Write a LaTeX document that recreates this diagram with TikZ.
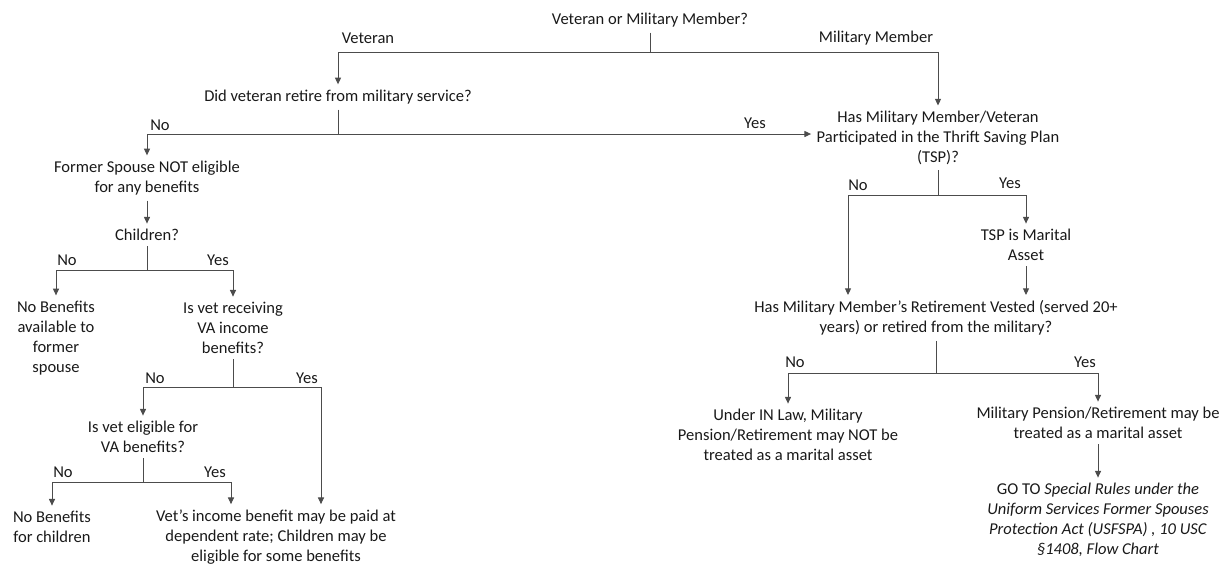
\documentclass[tikz,border=0pt]{standalone}
\usepackage{fontspec}
\setmainfont{Carlito}
\usetikzlibrary{arrows.meta}
\usetikzlibrary{calc}
\usetikzlibrary{positioning}

\tikzset{
  box/.style={align=center, inner sep=4pt, font=\fontsize{12.4}{15}\selectfont, text=black!90},
  lbl/.style={inner sep=0pt, font=\fontsize{12.4}{15}\selectfont, text=black!90},
  link/.style={draw=black!70, line width=0.7pt},
  flow/.style={link, -{Triangle[length=5pt,width=4.5pt]}},
}

\begin{document}
\begin{tikzpicture}[x=0.75pt,y=-0.75pt]
  \useasboundingbox (0,0) rectangle (1227,565);
  % Place nodes
  \node[box] (top) at (650,20) {Veteran or Military Member?};
  \node[box] (retire) at (338,97) {Did veteran retire from military service?};
  \node[box] (former) at (147,178) {Former Spouse NOT eligible\\for any benefits};
  \node[box] (children) at (147,235) {Children?};
  \node[box] (nobenspouse) at (56,338) {No Benefits\\available to\\former\\spouse};
  \node[box] (receiving) at (233,328) {Is vet receiving\\VA income\\benefits?};
  \node[box] (eligible) at (143,437) {Is vet eligible for\\VA benefits?};
  \node[box] (nobenchild) at (52,527) {No Benefits\\for children};
  \node[box] (vetinc) at (276,537) {Vet’s income benefit may be paid at\\dependent rate; Children may be\\eligible for some benefits};
  \node[box] (tsp) at (938,138) {Has Military Member/Veteran\\Participated in the Thrift Saving Plan\\(TSP)?};
  \node[box] (asset) at (1026,245) {TSP is Marital\\Asset};
  \node[box] (vest) at (936,318) {Has Military Member’s Retirement Vested (served 20+\\years) or retired from the military?};
  \node[box] (underin) at (788,435) {Under IN Law, Military\\Pension/Retirement may NOT be\\treated as a marital asset};
  \node[box] (pension) at (1098,423) {Military Pension/Retirement may be\\treated as a marital asset};
  \node[box] (goto) at (1098,520) {GO TO \textit{Special Rules under the}\\\textit{Uniform Services Former Spouses}\\\textit{Protection Act (USFSPA) , 10 USC}\\\textit{§1408, Flow Chart}};

  % Branch labels
  \node[lbl] (lveteran) at (368,38) {Veteran};
  \node[lbl] (lmember) at (876,38) {Military Member};
  \node[lbl] (lno1) at (160,125) {No};
  \node[lbl] (lyes1) at (755,123) {Yes};
  \node[lbl] (lno2) at (67,260) {No};
  \node[lbl] (lyes2) at (218,260) {Yes};
  \node[lbl] (lno3) at (155,378) {No};
  \node[lbl] (lyes3) at (307,378) {Yes};
  \node[lbl] (lno4) at (63,472) {No};
  \node[lbl] (lyes4) at (215,472) {Yes};
  \node[lbl] (lno5) at (858,185) {No};
  \node[lbl] (lyes5) at (1010,183) {Yes};
  \node[lbl] (lno6) at (795,362) {No};
  \node[lbl] (lyes6) at (1085,362) {Yes};

  % Junctions
  \coordinate (j1) at (650,52);
  \coordinate (j2) at (338,134);
  \coordinate (j3) at (147,270);
  \coordinate (j4) at (938,195);
  \coordinate (j5) at (233,387);
  \coordinate (j6) at (143,482);
  \coordinate (j7) at (936,373);

  % Connectors
  \draw[link] (top) -- (j1);
  \draw[flow] (j1) -| (retire);
  \draw[flow] (j1) -| (tsp);
  \draw[link] (retire) -- (j2);
  \draw[flow] (j2) -| (former);
  \draw[flow] (j2) -- (j2 -| tsp.west);
  \draw[flow] (former) -- (children);
  \draw[link] (children) -- (j3);
  \draw[flow] (j3) -| (nobenspouse);
  \draw[flow] (j3) -| (receiving);
  \draw[link] (receiving) -- (j5);
  \draw[flow] (j5) -| (eligible);
  \draw[flow] (j5) -| ($(vetinc.north)+(45,0)$);
  \draw[link] (eligible) -- (j6);
  \draw[flow] (j6) -| (nobenchild);
  \draw[flow] (j6) -| ($(vetinc.north)+(-45,0)$);
  \draw[link] (tsp) -- (j4);
  \draw[flow] (j4) -| ($(vest.north)+(-88,0)$);
  \draw[flow] (j4) -| (asset);
  \draw[flow] (asset) -- (asset |- vest.north);
  \draw[link] (vest) -- (j7);
  \draw[flow] (j7) -| (underin);
  \draw[flow] (j7) -| (pension);
  \draw[flow] (pension) -- (goto);
\end{tikzpicture}
\end{document}
